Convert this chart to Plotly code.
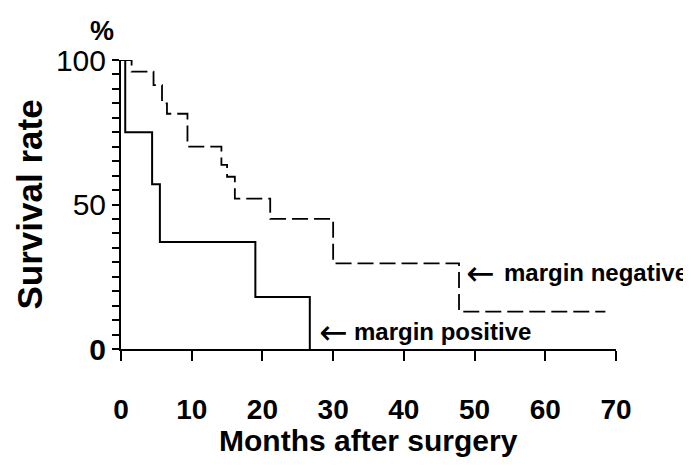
import plotly.graph_objects as go

# Survival data (months, %)
neg_months = [0, 1.5, 4.6, 5.8, 6.5, 9.4, 14.2, 15.0, 16.1, 21.1, 30.0, 47.8, 68.5]
neg_surv = [100, 96, 91.3, 85, 81.4, 70, 63.7, 59.6, 52, 45, 29.6, 12.9, 12.9]

pos_months = [0, 0.6, 4.4, 5.5, 19.0, 26.7]
pos_surv = [100, 75, 57, 37, 18, 0]

x_ticks = [0, 10, 20, 30, 40, 50, 60, 70]
x_ticktext = ["<b>%d</b>" % v for v in x_ticks]
y_ticks = [0, 50, 100]
y_ticktext = ["<b>0</b>", "50", "100"]

FONT = "Liberation Sans, Arial, sans-serif"
ARROW_FONT = "DejaVu Sans, sans-serif"

fig = go.Figure()
fig.add_trace(go.Scatter(x=neg_months, y=neg_surv, mode="lines", line_shape="hv",
                         line=dict(color="black", width=1.8, dash="16px,6px"),
                         cliponaxis=False, showlegend=False))
fig.add_trace(go.Scatter(x=pos_months, y=pos_surv, mode="lines", line_shape="hv",
                         line=dict(color="black", width=2),
                         cliponaxis=False, showlegend=False))

# curve labels with arrows
fig.add_annotation(x=50.8, y=26.3, xref="x", yref="y", xanchor="center", yanchor="middle",
                   text="\u2190", showarrow=False,
                   font=dict(family=ARROW_FONT, size=34, color="black"))
fig.add_annotation(x=53.9, y=26.3, xref="x", yref="y", xanchor="left", yanchor="middle",
                   text="<b>margin negative</b>", showarrow=False,
                   font=dict(family=FONT, size=24, color="black"))
fig.add_annotation(x=30.0, y=5.9, xref="x", yref="y", xanchor="center", yanchor="middle",
                   text="\u2190", showarrow=False,
                   font=dict(family=ARROW_FONT, size=34, color="black"))
fig.add_annotation(x=32.7, y=5.9, xref="x", yref="y", xanchor="left", yanchor="middle",
                   text="<b>margin positive</b>", showarrow=False,
                   font=dict(family=FONT, size=24, color="black"))

# unit label and axis titles
fig.add_annotation(x=-0.038, y=1.10, xref="x domain", yref="y domain", xanchor="center",
                   yanchor="middle", text="<b>%</b>", showarrow=False,
                   font=dict(family=FONT, size=27, color="black"))
fig.add_annotation(x=0.5, y=0, xref="x domain", yref="y domain", xanchor="center",
                   yanchor="middle", yshift=-91, text="<b>Months after surgery</b>",
                   showarrow=False, font=dict(family=FONT, size=30, color="black"))
fig.add_annotation(x=0, y=0.5, xref="x domain", yref="y domain", xanchor="center",
                   yanchor="middle", xshift=-92, textangle=-90, text="<b>Survival rate</b>",
                   showarrow=False, font=dict(family=FONT, size=35, color="black"))

# the page adds an 8px body margin, so the figure is sized to fit the window
fig.update_layout(
    width=683, height=458,
    margin=dict(l=113, r=75, t=52, b=117),
    paper_bgcolor="white", plot_bgcolor="white",
    xaxis=dict(range=[0, 70], tickvals=x_ticks, ticktext=x_ticktext, showgrid=False,
               zeroline=False, automargin=False,
               showline=True, linecolor="black", linewidth=2,
               ticks="outside", ticklen=10, tickwidth=2, tickcolor="black",
               ticklabelstandoff=24,
               tickfont=dict(family=FONT, size=28, color="black")),
    yaxis=dict(range=[0, 100], tickvals=y_ticks, ticktext=y_ticktext, showgrid=False,
               zeroline=False, automargin=False, showline=True, linecolor="black", linewidth=2,
               ticks="outside", ticklen=7, tickwidth=1.5, tickcolor="black",
               minor=dict(dtick=5, ticks="outside", ticklen=7, tickwidth=1.5, tickcolor="black"),
               tickfont=dict(family=FONT, size=30, color="black")),
)

fig.write_html("out.html")
